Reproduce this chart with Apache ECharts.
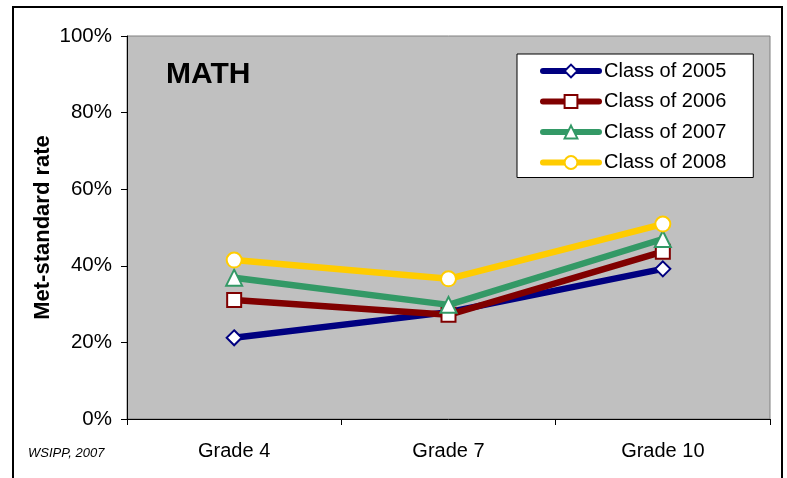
<!DOCTYPE html>
<html>
<head>
<meta charset="utf-8">
<script src="https://cdn.jsdelivr.net/npm/echarts@6/dist/echarts.min.js"></script>
<style>
html,body{margin:0;padding:0;background:#fff;}
#chart{width:787px;height:478px;}
</style>
</head>
<body>
<div id="chart"></div>
<script>
const categories = ['Grade 4', 'Grade 7', 'Grade 10'];
const seriesNames = ['Class of 2005', 'Class of 2006', 'Class of 2007', 'Class of 2008'];
const class2005 = [21.2, 27.9, 39.2];
const class2006 = [31.1, 27.2, 43.7];
const class2007 = [36.9, 29.8, 47.0];
const class2008 = [41.5, 36.6, 50.9];
const yTicks = [0, 20, 40, 60, 80, 100];

const FONT = "'Liberation Sans', Arial, sans-serif";
const colors = ['#000080', '#800000', '#339966', '#FFCC00'];
const symbols = ['diamond', 'rect', 'triangle', 'circle'];
const sizes = [15, 14, 16, 15];
const values = [class2005, class2006, class2007, class2008];

const chart = echarts.init(document.getElementById('chart'), null, {renderer: 'canvas'});

const series = values.map((v, i) => ({
  name: seriesNames[i],
  type: 'line',
  data: v,
  z: 2 + i,
  symbol: symbols[i],
  symbolSize: sizes[i],
  showAllSymbol: true,
  lineStyle: {color: colors[i], width: 6.5},
  itemStyle: {color: '#ffffff', borderColor: colors[i], borderWidth: 2},
  emphasis: {disabled: true},
  animation: false
}));

chart.setOption({
  animation: false,
  textStyle: {fontFamily: FONT},
  title: {
    text: 'MATH',
    left: 166, top: 60, padding: 0,
    textStyle: {fontFamily: FONT, fontSize: 30, fontWeight: 'bold', color: '#000'}
  },
  legend: {
    orient: 'vertical',
    left: 517, top: 54,
    padding: [7, 27, 5, 23],
    backgroundColor: '#ffffff',
    borderColor: '#000000',
    borderWidth: 1,
    itemWidth: 56,
    itemHeight: 16,
    itemGap: 10.5,
    selectedMode: false,
    textStyle: {fontFamily: FONT, fontSize: 20, color: '#000'},
    lineStyle: {width: 6, cap: 'round'},
    data: seriesNames
  },
  grid: {
    left: 127, right: 17, top: 36, bottom: 59,
    show: true,
    backgroundColor: '#C0C0C0',
    borderColor: '#808080',
    borderWidth: 1
  },
  xAxis: {
    type: 'category',
    data: categories,
    boundaryGap: true,
    axisLine: {lineStyle: {color: '#000', width: 1}},
    axisTick: {show: true, length: 6, lineStyle: {color: '#000'}},
    axisLabel: {fontFamily: FONT, fontSize: 20, color: '#000', margin: 22},
    splitLine: {show: false}
  },
  yAxis: {
    type: 'value',
    min: yTicks[0], max: yTicks[yTicks.length - 1], interval: 20,
    name: 'Met-standard rate',
    nameLocation: 'middle',
    nameGap: 73,
    nameMoveOverlap: false,
    nameTextStyle: {fontFamily: FONT, fontSize: 22, fontWeight: 'bold', color: '#000'},
    axisLine: {show: true, lineStyle: {color: '#000', width: 1}},
    axisTick: {show: true, length: 6, lineStyle: {color: '#000'}},
    axisLabel: {fontFamily: FONT, fontSize: 20.5, color: '#000', margin: 15, formatter: '{value}%'},
    splitLine: {show: false}
  },
  graphic: [
    {
      type: 'rect',
      shape: {x: 13, y: 7, width: 769, height: 480},
      style: {fill: 'none', stroke: '#000', lineWidth: 2},
      silent: true, z: 100
    },
    {
      type: 'text',
      left: 28, top: 447,
      style: {text: 'WSIPP, 2007', font: 'italic 13px ' + FONT, fill: '#000'},
      silent: true
    }
  ],
  series: series
});
</script>
</body>
</html>
